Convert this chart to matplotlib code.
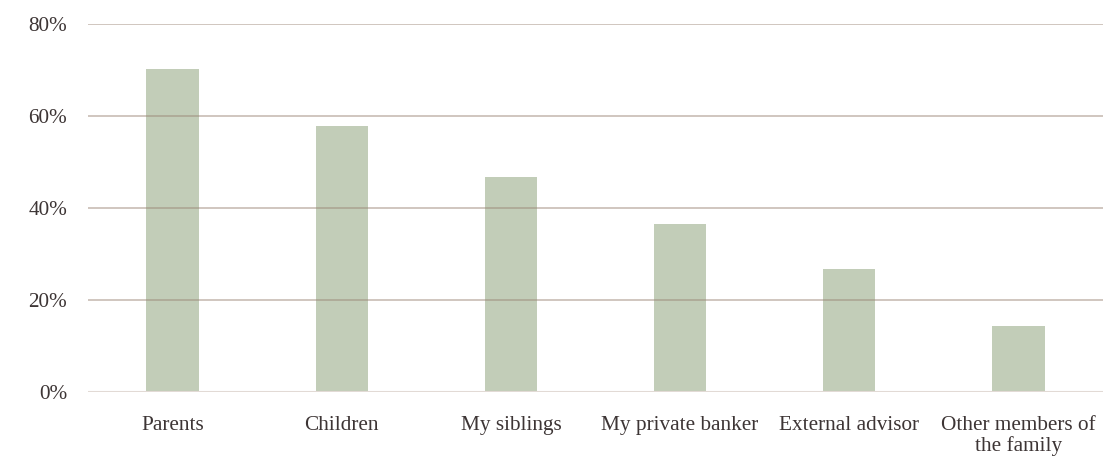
import matplotlib
matplotlib.use("Agg")
import matplotlib.pyplot as plt

categories = ["Parents", "Children", "My siblings", "My private banker",
              "External advisor", "Other members of\nthe family"]
shares = [70.2, 57.9, 46.7, 36.5, 26.8, 14.4]
yticks = [0, 20, 40, 60, 80]
ytick_labels = ["0%", "20%", "40%", "60%", "80%"]

plt.rcParams["font.family"] = ["Liberation Serif", "DejaVu Serif"]

fig = plt.figure(figsize=(11.03, 4.58), dpi=100)
ax = fig.add_axes([0.0798, 0.144, 0.9202, 0.8036])

x = range(len(categories))
ax.bar(x, shares, width=0.31, color="#c2cdb8", zorder=2)

# grid lines sit on top of the bars, half transparent
for v in yticks[1:]:
    ax.axhline(v, color="#9a8575", alpha=0.5, lw=1.3, zorder=3)
ax.axhline(0, color="#e2dad5", lw=1.5, zorder=3)

ax.set_xlim(-0.5, len(categories) - 0.5)
ax.set_ylim(0, 80)
ax.set_yticks(yticks)
ax.set_yticklabels(ytick_labels, va="center_baseline")
ax.set_xticks(list(x))
ax.set_xticklabels(categories, linespacing=1.12)
ax.tick_params(length=0, labelsize=15.3, colors="#3d3535")
ax.tick_params(axis="y", pad=15)
ax.tick_params(axis="x", pad=17)
for s in ax.spines.values():
    s.set_visible(False)

fig.savefig("out.png", dpi=100)
